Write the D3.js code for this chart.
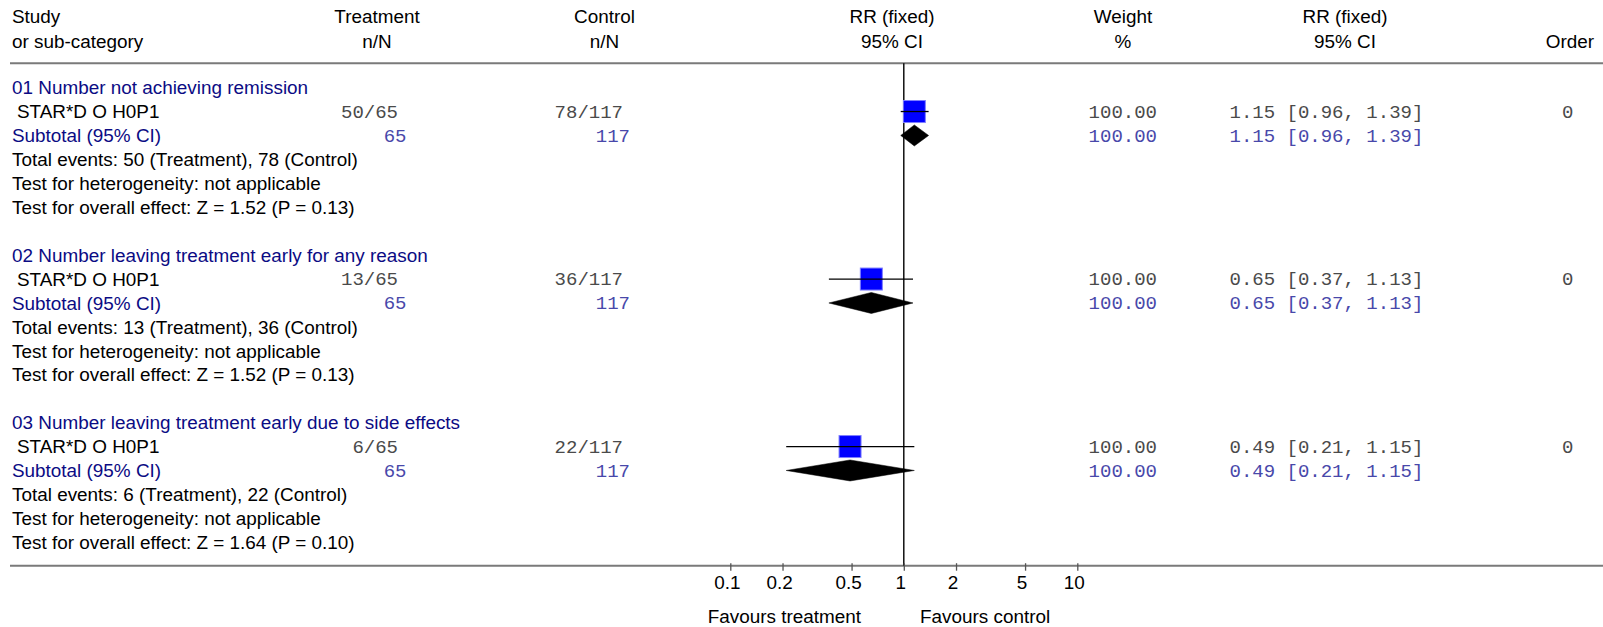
<!DOCTYPE html>
<html>
<head>
<meta charset="utf-8">
<script src="https://cdn.jsdelivr.net/npm/d3@7"></script>
<style>
  html, body { margin: 0; padding: 0; background: #ffffff; }
  svg { display: block; }
</style>
</head>
<body>
<script>
// ---------------- data ----------------
const groupTitles = [
  "01 Number not achieving remission",
  "02 Number leaving treatment early for any reason",
  "03 Number leaving treatment early due to side effects"
];
const studyNames   = ["STAR*D O H0P1", "STAR*D O H0P1", "STAR*D O H0P1"];
const treatEvents  = [50, 13, 6];
const treatTotal   = [65, 65, 65];
const ctrlEvents   = [78, 36, 22];
const ctrlTotal    = [117, 117, 117];
const rrEst        = [1.15, 0.65, 0.49];
const rrLow        = [0.96, 0.37, 0.21];
const rrHigh       = [1.39, 1.13, 1.15];
const weights      = [100, 100, 100];
const orders       = [0, 0, 0];
const heterogeneity = ["not applicable", "not applicable", "not applicable"];
const zValues      = [1.52, 1.52, 1.64];
const pValues      = [0.13, 0.13, 0.10];
const axisTicks    = [0.1, 0.2, 0.5, 1, 2, 5, 10];
const headerRow1   = ["Study", "Treatment", "Control", "RR (fixed)", "Weight", "RR (fixed)", ""];
const headerRow2   = ["or sub-category", "n/N", "n/N", "95% CI", "%", "95% CI", "Order"];

// ---------------- setup ----------------
const W = 1603, H = 627;
const SANS = "'Liberation Sans', Arial, Helvetica, sans-serif";
const MONO = "'Liberation Mono', 'Courier New', monospace";
const NAVY = "#0b0b84";
const SUBBLUE = "#4848aa";
const GREY = "#4a4a4a";
const FS = 18.9;

const svg = d3.select("body").append("svg")
  .attr("width", W).attr("height", H)
  .attr("viewBox", `0 0 ${W} ${H}`);

const x = d3.scaleLog().domain([0.1, 10]).range([730.3, 1077.3]);
const y = d3.scaleLinear().domain([0, 20]).range([87.6, 566.2]);
const f2 = d3.format(".2f");

function sans(xp, yc, s, opt = {}) {
  return svg.append("text")
    .attr("x", xp).attr("y", yc + 6.7)
    .attr("font-family", SANS).attr("font-size", opt.size || FS)
    .attr("text-anchor", opt.anchor || "start")
    .attr("fill", opt.fill || "#000")
    .text(s);
}
function mono(xp, yc, s, opt = {}) {
  return svg.append("text")
    .attr("x", xp).attr("y", yc + 6.3)
    .attr("font-family", MONO).attr("font-size", 19)
    .attr("text-anchor", opt.anchor || "start")
    .attr("fill", opt.fill || GREY)
    .text(s);
}

// ---------------- header ----------------
const headX = [12, 377, 604.5, 892, 1123, 1345, 1594];
const headAnchor = ["start", "middle", "middle", "middle", "middle", "middle", "end"];
headerRow1.forEach((t, i) => { if (t) sans(headX[i], 16.5, t, { anchor: headAnchor[i] }); });
headerRow2.forEach((t, i) => { if (t) sans(headX[i], 41.5, t, { anchor: headAnchor[i] }); });

// separator lines
const topY = 63.3, axisY = 565.7;
svg.append("line").attr("x1", 10).attr("x2", W).attr("y1", topY).attr("y2", topY)
  .attr("stroke", "#7a7a7a").attr("stroke-width", 2);
svg.append("line").attr("x1", 10).attr("x2", W).attr("y1", axisY).attr("y2", axisY)
  .attr("stroke", "#7a7a7a").attr("stroke-width", 2);

// line of no effect
svg.append("line").attr("x1", x(1)).attr("x2", x(1)).attr("y1", topY).attr("y2", axisY)
  .attr("stroke", "#000").attr("stroke-width", 1.4);

// ---------------- groups ----------------
groupTitles.forEach((title, g) => {
  const k0 = g * 7;
  const yTitle = y(k0), yStudy = y(k0 + 1), ySub = y(k0 + 2);
  const yTot = y(k0 + 3), yHet = y(k0 + 4), yEff = y(k0 + 5);

  sans(12, yTitle, title, { fill: NAVY });
  sans(17, yStudy, studyNames[g]);
  sans(12, ySub, "Subtotal (95% CI)", { fill: NAVY });
  sans(12, yTot, `Total events: ${treatEvents[g]} (Treatment), ${ctrlEvents[g]} (Control)`);
  sans(12, yHet, `Test for heterogeneity: ${heterogeneity[g]}`);
  sans(12, yEff, `Test for overall effect: Z = ${f2(zValues[g])} (P = ${f2(pValues[g])})`);

  // numbers
  mono(398, yStudy, `${treatEvents[g]}/${treatTotal[g]}`, { anchor: "end" });
  mono(623, yStudy, `${ctrlEvents[g]}/${ctrlTotal[g]}`, { anchor: "end" });
  mono(406.5, ySub, `${treatTotal[g]}`, { anchor: "end", fill: SUBBLUE });
  mono(630, ySub, `${ctrlTotal[g]}`, { anchor: "end", fill: SUBBLUE });

  const ci = `${f2(rrEst[g])} [${f2(rrLow[g])}, ${f2(rrHigh[g])}]`;
  mono(1157, yStudy, f2(weights[g]), { anchor: "end" });
  mono(1157, ySub, f2(weights[g]), { anchor: "end", fill: SUBBLUE });
  mono(1229.5, yStudy, ci);
  mono(1229.5, ySub, ci, { fill: SUBBLUE });
  mono(1573.5, yStudy, `${orders[g]}`, { anchor: "end" });

  // study marker
  const sq = 22;
  svg.append("rect")
    .attr("x", x(rrEst[g]) - sq / 2).attr("y", yStudy - sq / 2)
    .attr("width", sq).attr("height", sq)
    .attr("fill", "#0000ff").attr("stroke", "#7f7fff").attr("stroke-width", 1);
  svg.append("line")
    .attr("x1", x(rrLow[g])).attr("x2", x(rrHigh[g]))
    .attr("y1", yStudy).attr("y2", yStudy)
    .attr("stroke", "#000").attr("stroke-width", 1.3);

  // subtotal diamond
  const hh = 10.5;
  const pts = [
    [x(rrLow[g]), ySub], [x(rrEst[g]), ySub - hh],
    [x(rrHigh[g]), ySub], [x(rrEst[g]), ySub + hh]
  ];
  svg.append("path")
    .attr("d", d3.line()(pts) + "Z")
    .attr("fill", "#000").attr("stroke", "#000").attr("stroke-width", 0.5);
});

// ---------------- axis ----------------
const axis = d3.axisBottom(x)
  .tickValues(axisTicks)
  .tickFormat(d => String(d))
  .tickSizeInner(5).tickSizeOuter(0);
const gAxis = svg.append("g").attr("transform", `translate(0,${axisY})`).call(axis);
gAxis.select(".domain").remove();
gAxis.selectAll(".tick line").attr("y1", -2.5).attr("y2", 5).attr("stroke", "#555").attr("stroke-width", 1.3);
gAxis.selectAll(".tick text")
  .attr("x", -3.5).attr("y", 582.7 + 6.7 - axisY).attr("dy", 0)
  .attr("font-family", SANS).attr("font-size", FS).attr("fill", "#000");

sans(861, 616, "Favours treatment", { anchor: "end" });
sans(920, 616, "Favours control");
</script>
</body>
</html>
